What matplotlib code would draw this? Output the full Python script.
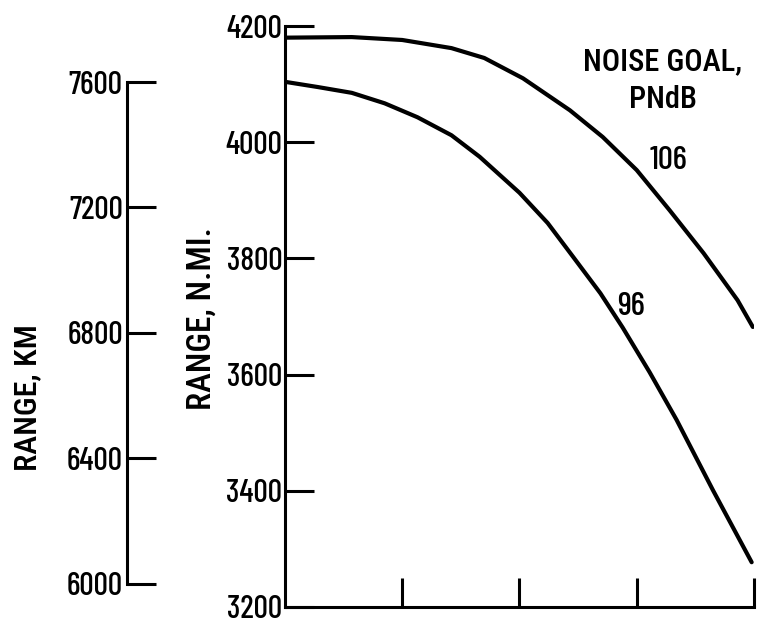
import numpy as np
import matplotlib
matplotlib.use("Agg")
import matplotlib.pyplot as plt

plt.rcParams['font.family'] = ['Barlow Condensed', 'DejaVu Sans']
plt.rcParams['font.weight'] = 'medium'
LABEL_FONT = ['Roboto Condensed', 'DejaVu Sans']

NMI_TO_KM = 1.852

# range vs. (unlabelled) design parameter, one curve per noise goal
x_106 = [0.0, 0.57, 1.0, 1.42, 1.70, 2.03, 2.43, 2.71, 3.00, 3.28, 3.57, 3.86, 3.99]
r_106 = [4180, 4181, 4176, 4162, 4145, 4110, 4055, 4009, 3952, 3883, 3809, 3728, 3682]

x_96 = [0.0, 0.28, 0.57, 0.85, 1.13, 1.42, 1.66, 2.0, 2.24, 2.46, 2.69, 2.88, 3.11, 3.34, 3.65, 3.98]
r_96 = [4104, 4095, 4085, 4067, 4043, 4012, 3975, 3913, 3861, 3802, 3740, 3681, 3604, 3522, 3401, 3277]

nmi_ticks = [3200, 3400, 3600, 3800, 4000, 4200]
km_ticks = [6000, 6400, 6800, 7200, 7600]
x_ticks = [1, 2, 3, 4]

fig = plt.figure(figsize=(7.75, 6.26), dpi=100)
ax = fig.add_axes([0.3677, 0.0304, 0.6052, 0.928])

ax.plot(x_106, r_106, color='black', lw=3.0, solid_capstyle='round', solid_joinstyle='round')
ax.plot(x_96, r_96, color='black', lw=3.0, solid_capstyle='round', solid_joinstyle='round')

ax.set_xlim(0, 4)
ax.set_ylim(3200, 4200)
ax.spines['top'].set_visible(False)
ax.spines['right'].set_visible(False)
for s in ('left', 'bottom'):
    ax.spines[s].set_linewidth(2.2)
ax.set_xticks(x_ticks)
ax.set_xticklabels([])
ax.set_yticks(nmi_ticks)
ax.tick_params(axis='both', direction='in', length=21, width=2.2, labelsize=23, pad=2)

ax.text(3.22, 4138, 'NOISE GOAL,', ha='center', va='center', fontsize=22, family=LABEL_FONT)
ax.text(3.22, 4073, 'PNdB', ha='center', va='center', fontsize=22, family=LABEL_FONT)
ax.text(3.27, 3969, '106', ha='center', va='center', fontsize=24)
ax.text(2.95, 3717, '96', ha='center', va='center', fontsize=24)

# second scale in kilometres, drawn as a free-standing spine
ax_km = fig.add_axes([0.1639, 0.0304, 0.01, 0.928])
ax_km.set_ylim(3200 * NMI_TO_KM, 4200 * NMI_TO_KM)
for s in ('top', 'right', 'bottom'):
    ax_km.spines[s].set_visible(False)
ax_km.spines['left'].set_linewidth(2.2)
ax_km.spines['left'].set_bounds(km_ticks[0], km_ticks[-1])
ax_km.set_xticks([])
ax_km.set_yticks(km_ticks)
ax_km.tick_params(axis='y', direction='in', length=21, width=2.2, labelsize=23, pad=3)
ax_km.patch.set_visible(False)

fig.text(202 / 775, 1 - 319 / 626, 'RANGE, N.MI.', rotation=90, ha='center', va='center',
         fontsize=24, family=LABEL_FONT)
fig.text(28 / 775, 1 - 398 / 626, 'RANGE, KM', rotation=90, ha='center', va='center',
         fontsize=23, family=LABEL_FONT)

fig.savefig('out.png', dpi=100)
